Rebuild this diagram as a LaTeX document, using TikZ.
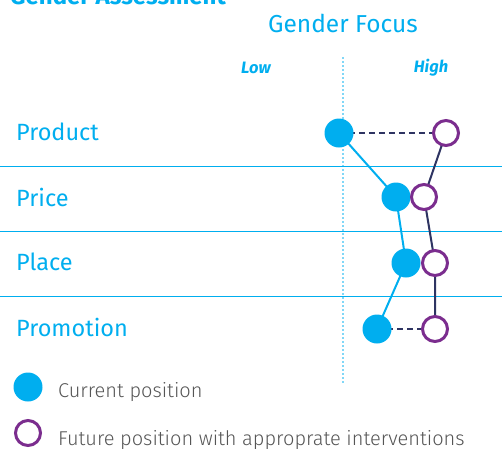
\documentclass[tikz,border=0pt]{standalone}
\usepackage{fontspec}
\setmainfont{Fira Sans}
\newfontfamily\legendfont{Fira Sans Light}
\definecolor{cblue}{HTML}{00AEEF}
\definecolor{cpurple}{HTML}{7B2D8E}
\definecolor{cnavy}{HTML}{2E3462}
\definecolor{cgray}{HTML}{555555}
\tikzset{
  cur/.style={circle,fill=cblue,minimum size=29pt,inner sep=0pt},
  fut/.style={circle,draw=cpurple,line width=3pt,fill=white,minimum size=25pt,inner sep=0pt},
  rowlabel/.style={anchor=west,text=cblue,font=\fontsize{23.5}{28}\selectfont,inner sep=0pt},
  axislabel/.style={text=cblue,font=\bfseries\itshape\fontsize{16.5}{19}\selectfont,inner sep=0pt},
  sep/.style={cblue,line width=1pt},
  curline/.style={cblue,line width=2pt},
  futline/.style={cnavy,line width=2pt},
  gap/.style={cnavy,line width=2pt,dash pattern=on 6pt off 4pt},
  legendtext/.style={anchor=west,text=cgray,font=\legendfont\fontsize{20}{24}\selectfont,inner sep=0pt}
}
\begin{document}
\begin{tikzpicture}[x=1pt,y=-1pt]
\useasboundingbox (0,0) rectangle (502,448);
\clip (0,0) rectangle (502,448);
\node[anchor=base west,text=cblue,font=\bfseries\fontsize{24}{28}\selectfont,inner sep=0pt] (title) at (10,4) {Gender Assessment};
\node[text=cblue,font=\fontsize{24.5}{28}\selectfont,inner sep=0pt] (focus) at (343,23) {Gender Focus};
\node[axislabel] (low) at (256,68) {Low};
\node[axislabel] (high) at (431,68) {High};
\coordinate (dtop) at (343,58);
\coordinate (dbot) at (343,383);
\draw[cblue,line width=1.6pt,line cap=round,dash pattern=on 0pt off 4pt] (dtop) -- (dbot);
\foreach \y/\n in {166/a,231/b,296/c}{
  \coordinate (l\n) at (0,\y);
  \coordinate (r\n) at (502,\y);
  \draw[sep] (l\n) -- (r\n);
}
\node[rowlabel] (product) at (16,132) {Product};
\node[rowlabel] (price) at (16,197) {Price};
\node[rowlabel] (place) at (16,262) {Place};
\node[rowlabel] (promotion) at (16,327) {Promotion};
% coordinates of points
\coordinate (p1) at (339,133);
\coordinate (p2) at (396,197);
\coordinate (p3) at (406,263);
\coordinate (p4) at (377,329);
\coordinate (q1) at (446,133);
\coordinate (q2) at (424,197);
\coordinate (q3) at (435,263);
\coordinate (q4) at (435,329);
\draw[gap] (p1) -- (q1);
\draw[gap] (p4) -- (q4);
\draw[curline] (p1) -- (p2) -- (p3) -- (p4);
\draw[futline] (q1) -- (q2) -- (q3) -- (q4);
\node[cur] (c1) at (p1) {};
\node[cur] (c2) at (p2) {};
\node[cur] (c3) at (p3) {};
\node[cur] (c4) at (p4) {};
\node[fut] (f1) at (q1) {};
\node[fut] (f2) at (q2) {};
\node[fut] (f3) at (q3) {};
\node[fut] (f4) at (q4) {};
% legend
\node[cur] (lc) at (28,387) {};
\node[legendtext] (lct) at (58,392) {Current position};
\node[fut] (lf) at (28,433) {};
\node[legendtext] (lft) at (58,440) {Future position with approprate interventions};
\end{tikzpicture}
\end{document}
